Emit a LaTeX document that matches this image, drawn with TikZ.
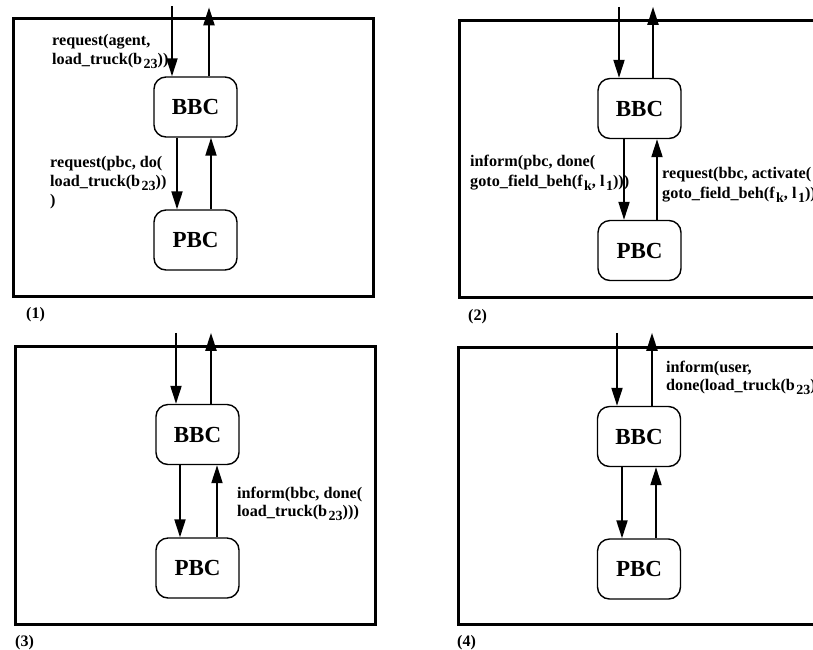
\documentclass[tikz,border=0pt]{standalone}
\usepackage{fontspec}
\setmainfont{Liberation Serif}
\usetikzlibrary{arrows.meta}
\newcommand\lsub[1]{\kern1.5pt\raisebox{-4.5pt}{\fontsize{14}{14}\selectfont #1}}
\begin{document}
\begin{tikzpicture}[x=1pt,y=-1pt,
  panel/.style={line width=3pt},
  blk/.style={draw, line width=1.4pt, rounded corners=12pt, minimum width=83pt, minimum height=60pt, font=\fontsize{23}{23}\selectfont\bfseries, inner sep=0pt},
  arr/.style={line width=2pt, -{Triangle[length=18pt,width=11pt]}},
  lbl/.style={anchor=base west, inner sep=0pt, font=\fontsize{16.2}{19}\selectfont\bfseries},
  captxt/.style={anchor=base west, inner sep=0pt, font=\fontsize{16}{18}\selectfont\bfseries}]
\useasboundingbox (0,0) rectangle (813,649);
\clip (0,0) rectangle (813,649);
% panel frames
\draw[panel] (13,18) rectangle (373,296);
\draw[panel] (459,20) rectangle (840,297);
\draw[panel] (15,346) rectangle (375,624);
\draw[panel] (458,347) rectangle (840,624);
% captions
\node[captxt] (c1) at (26,318) {(1)};
\node[captxt] (c2) at (468,320) {(2)};
\node[captxt] (c3) at (15,646) {(3)};
\node[captxt] (c4) at (457,646) {(4)};
% panel 1
\node[blk] (bbc1) at (195.5,107) {BBC};
\node[blk] (pbc1) at (195.5,240) {PBC};
\draw[arr] ([xshift=-23.5pt,yshift=70pt]bbc1.north) -- ([xshift=-23.5pt]bbc1.north);
\draw[arr] ([xshift=13.5pt]bbc1.north) -- ([xshift=13.5pt,yshift=69pt]bbc1.north);
\draw[arr] ([xshift=-18.5pt]bbc1.south) -- ([xshift=-18.5pt]pbc1.north);
\draw[arr] ([xshift=15.5pt]pbc1.north) -- ([xshift=15.5pt]bbc1.south);
\node[lbl] (t1a) at (52,45) {request(agent,};
\node[lbl] (t1b) at (52,64) {load\_truck(b\lsub{23}))};
\node[lbl] (t1c) at (50,167) {request(pbc, do(};
\node[lbl] (t1d) at (50,186) {load\_truck(b\lsub{23}))};
\node[lbl] (t1e) at (50,205) {)};
% panel 2
\node[blk] (bbc2) at (639.5,108.5) {BBC};
\node[blk] (pbc2) at (639.5,250.5) {PBC};
\draw[arr] ([xshift=-20.5pt,yshift=71pt]bbc2.north) -- ([xshift=-20.5pt]bbc2.north);
\draw[arr] ([xshift=13.5pt]bbc2.north) -- ([xshift=13.5pt,yshift=71pt]bbc2.north);
\draw[arr] ([xshift=-15.5pt]bbc2.south) -- ([xshift=-15.5pt]pbc2.north);
\draw[arr] ([xshift=17.5pt]pbc2.north) -- ([xshift=17.5pt]bbc2.south);
\node[lbl] (t2a) at (470,166) {inform(pbc, done(};
\node[lbl] (t2b) at (470,186) {goto\_field\_beh(f\lsub{k}, l\lsub{1})))};
\node[lbl] (t2c) at (662,178) {request(bbc, activate(};
\node[lbl] (t2d) at (662,198) {goto\_field\_beh(f\lsub{k}, l\lsub{1}))};
% panel 3
\node[blk] (bbc3) at (197.5,434.5) {BBC};
\node[blk] (pbc3) at (197.5,568) {PBC};
\draw[arr] ([xshift=-21.5pt,yshift=71pt]bbc3.north) -- ([xshift=-21.5pt]bbc3.north);
\draw[arr] ([xshift=13.5pt]bbc3.north) -- ([xshift=13.5pt,yshift=71pt]bbc3.north);
\draw[arr] ([xshift=-17.5pt]bbc3.south) -- ([xshift=-17.5pt]pbc3.north);
\draw[arr] ([xshift=19.5pt]pbc3.north) -- ([xshift=19.5pt]bbc3.south);
\node[lbl] (t3a) at (237,498) {inform(bbc, done(};
\node[lbl] (t3b) at (237,516) {load\_truck(b\lsub{23})))};
% panel 4
\node[blk] (bbc4) at (639,436.5) {BBC};
\node[blk] (pbc4) at (639,569) {PBC};
\draw[arr] ([xshift=-22pt,yshift=73pt]bbc4.north) -- ([xshift=-22pt]bbc4.north);
\draw[arr] ([xshift=13pt]bbc4.north) -- ([xshift=13pt,yshift=73pt]bbc4.north);
\draw[arr] ([xshift=-17pt]bbc4.south) -- ([xshift=-17pt]pbc4.north);
\draw[arr] ([xshift=17pt]pbc4.north) -- ([xshift=17pt]bbc4.south);
\node[lbl] (t4a) at (666,372) {inform(user,};
\node[lbl] (t4b) at (666,390) {done(load\_truck(b\lsub{23})};
\end{tikzpicture}
\end{document}
